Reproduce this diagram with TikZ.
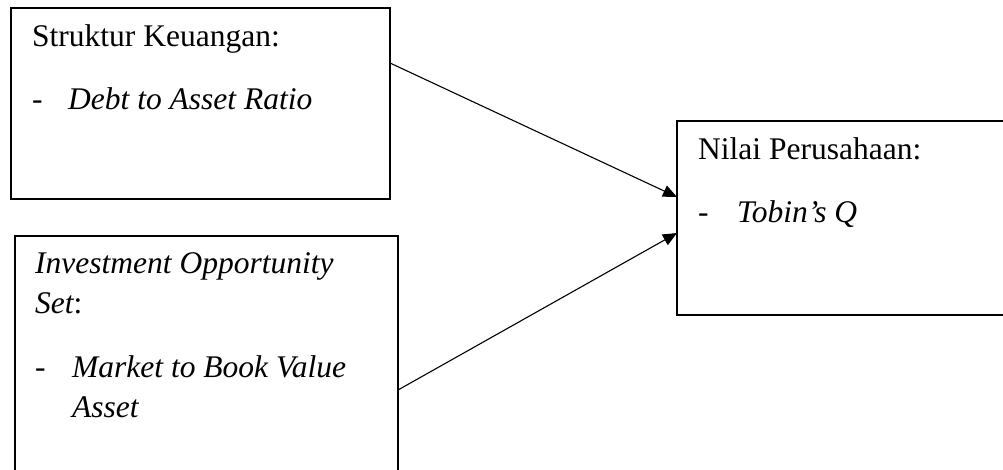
\documentclass[tikz,border=0pt]{standalone}
\usepackage{fontspec}
\setmainfont{Liberation Serif}
\usetikzlibrary{arrows.meta}
\begin{document}
\begin{tikzpicture}[x=1pt,y=-1pt,
  boxstyle/.style={draw=black,line width=1.4pt,inner sep=0pt,outer sep=0pt},
  txt/.style={anchor=base west,inner sep=0pt,font=\fontsize{31.5}{38}\selectfont},
  conn/.style={line width=1.1pt,-{Triangle[length=14pt,width=12pt]}}]
\useasboundingbox (0,0) rectangle (1003,470);
\clip (0,0) rectangle (1003,470);
% boxes
\node[boxstyle,minimum width=379pt,minimum height=191pt] (b1) at (200.5,103.5) {};
\node[boxstyle,minimum width=383pt,minimum height=260pt] (b2) at (206.5,366) {};
\node[boxstyle,minimum width=343pt,minimum height=194pt] (b3) at (848.5,218) {};
% texts
\node[txt] (t1) at (32,47) {Struktur Keuangan:};
\node[txt] (t1d) at (32,110) {-};
\node[txt] (t1b) at (68,110) {\itshape Debt to Asset Ratio};
\node[txt] (t2) at (35,273) {\itshape Investment Opportunity};
\node[txt] (t2s) at (35,313) {\itshape Set\upshape:};
\node[txt] (t2d) at (35,377) {-};
\node[txt] (t2b) at (72,377) {\itshape Market to Book Value};
\node[txt] (t2c) at (72,417) {\itshape Asset};
\node[txt] (t3) at (698,160) {Nilai Perusahaan:};
\node[txt] (t3d) at (698,223) {-};
\node[txt] (t3b) at (737,223) {\itshape Tobin’s Q};
% connectors
\coordinate (s1) at (b1.east |- 0,63);
\coordinate (e1) at (b3.west |- 0,197);
\coordinate (s2) at (b2.east |- 0,390);
\coordinate (e2) at (b3.west |- 0,233);
\draw[conn] (s1) -- (e1);
\draw[conn] (s2) -- (e2);
\end{tikzpicture}
\end{document}
